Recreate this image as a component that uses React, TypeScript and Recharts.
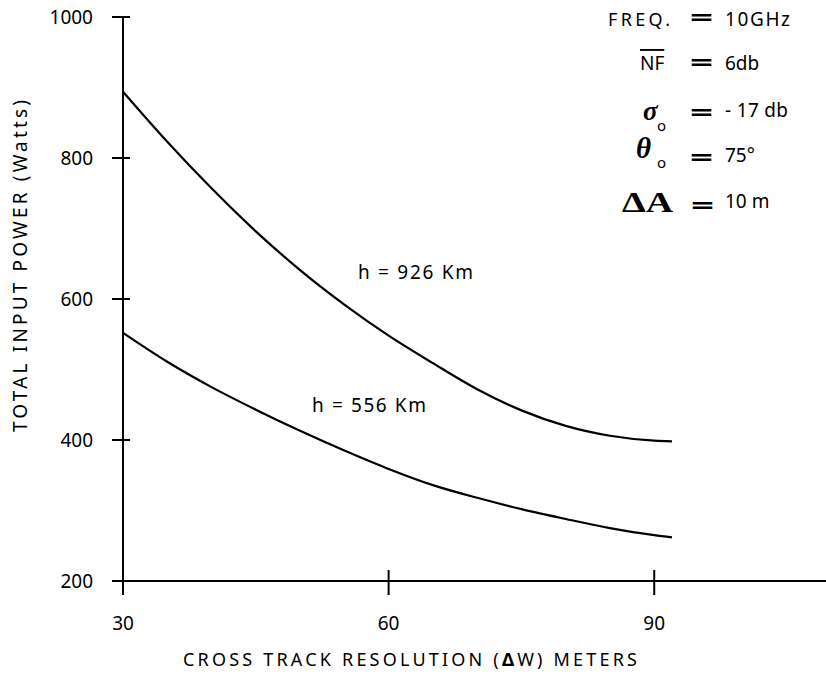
import { LineChart, Line, XAxis, YAxis } from "recharts";

// cross track resolution (meters)
const resolution = [30, 35, 40, 45, 50, 55, 60, 65, 70, 75, 80, 85, 90, 92];
// total input power (watts) for each orbit height
const power926 = [894, 823, 757, 696, 641, 592, 548, 509, 472, 442, 420, 406, 399, 398];
const power556 = [552, 511, 475, 443, 413, 385, 359, 336, 318, 302, 288, 275, 265, 262];

const xTicks = [30, 60, 90];
const yTicks = [200, 400, 600, 800, 1000];

const data = resolution.map((r, i) => ({
  r,
  h926: power926[i],
  h556: power556[i],
}));

const FONT = "'Noto Sans', sans-serif";
const SERIF = "'Liberation Serif', serif";

const YTick = (props: any) => {
  const { x, y, payload } = props;
  return (
    <g>
      <line x1={x - 9} x2={x + 9} y1={y} y2={y} stroke="#000" strokeWidth={2} />
      <text x={x - 28} y={y} textAnchor="end" dominantBaseline="central" fontSize={19} fontFamily={FONT} fill="#000">
        {payload.value}
      </text>
    </g>
  );
};

const XTick = (props: any) => {
  const { x, y, payload } = props;
  return (
    <g>
      <line x1={x} x2={x} y1={y - 13} y2={y + 12} stroke="#000" strokeWidth={2} />
      <text x={x} y={y + 40} textAnchor="middle" dominantBaseline="central" fontSize={19} fontFamily={FONT} fill="#000">
        {payload.value}
      </text>
    </g>
  );
};

const Eq = ({ x, y }: { x: number; y: number }) => (
  <text x={x} y={y + 9} fontSize={24} fontWeight="bold" fontFamily={FONT} textLength={23} lengthAdjust="spacingAndGlyphs" fill="#000">
    =
  </text>
);

export default function App() {
  return (
    <div style={{ position: "absolute", left: 0, top: 0, width: 826, height: 676, background: "#fff" }}>
      <LineChart width={826} height={676} data={data} margin={{ top: 17, right: 0, bottom: 0, left: 0 }}>
        <XAxis
          dataKey="r"
          type="number"
          domain={[30, 109.4]}
          ticks={xTicks}
          height={95}
          tickSize={0}
          tickLine={false}
          axisLine={{ stroke: "#000", strokeWidth: 2 }}
          tick={<XTick />}
        />
        <YAxis
          type="number"
          domain={[200, 1000]}
          ticks={yTicks}
          width={123}
          tickSize={0}
          tickLine={false}
          axisLine={{ stroke: "#000", strokeWidth: 2 }}
          tick={<YTick />}
        />
        <Line type="monotone" dataKey="h926" stroke="#000" strokeWidth={2.2} dot={false} isAnimationActive={false} />
        <Line type="monotone" dataKey="h556" stroke="#000" strokeWidth={2.2} dot={false} isAnimationActive={false} />
      </LineChart>
      <svg width={826} height={676} style={{ position: "absolute", left: 0, top: 0, pointerEvents: "none" }}>
        <text
          transform="translate(20,266) rotate(-90)"
          textAnchor="middle"
          dominantBaseline="central"
          fontSize={19}
          fontFamily={FONT}
          textLength={332}
          lengthAdjust="spacing"
          fill="#000"
        >
          TOTAL INPUT POWER (Watts)
        </text>
        <text x={410} y={659} textAnchor="middle" dominantBaseline="central" fontSize={18} fontFamily={FONT} textLength={454} lengthAdjust="spacing" fill="#000">
          CROSS TRACK RESOLUTION (<tspan fontWeight="bold">Δ</tspan>W) METERS
        </text>

        <text x={358} y={279} fontSize={19} fontFamily={FONT} textLength={115} lengthAdjust="spacing" fill="#000">
          h = 926  Km
        </text>
        <text x={312} y={412} fontSize={19} fontFamily={FONT} textLength={114} lengthAdjust="spacing" fill="#000">
          h = 556  Km
        </text>

        <text x={608} y={26} fontSize={18} fontFamily={FONT} textLength={62} lengthAdjust="spacing" fill="#000">FREQ.</text>
        <Eq x={690} y={17} />
        <text x={725} y={26} fontSize={19} fontFamily={FONT} textLength={65} lengthAdjust="spacing" fill="#000">10GHz</text>

        <text x={640} y={70} fontSize={19} fontFamily={FONT} fill="#000" style={{ textDecoration: "overline" }}>NF</text>
        <Eq x={690} y={62} />
        <text x={725} y={70} fontSize={19} fontFamily={FONT} fill="#000">6db</text>

        <text x={643} y={120} fontSize={27} fontFamily={SERIF} fontStyle="italic" fontWeight="bold" fill="#000">σ</text>
        <text x={657} y={131} fontSize={15} fontFamily={FONT} fill="#000">o</text>
        <Eq x={690} y={112} />
        <text x={725} y={117} fontSize={19} fontFamily={FONT} textLength={63} lengthAdjust="spacing" fill="#000">- 17 db</text>

        <text x={636} y={158} fontSize={29} fontFamily={SERIF} fontStyle="italic" fontWeight="bold" fill="#000">θ</text>
        <text x={657} y={168} fontSize={15} fontFamily={FONT} fill="#000">o</text>
        <Eq x={690} y={157} />
        <text x={725} y={162} fontSize={19} fontFamily={FONT} fill="#000">75°</text>

        <text x={622} y={212} fontSize={30} fontFamily={SERIF} fontWeight="bold" textLength={51} lengthAdjust="spacingAndGlyphs" fill="#000">ΔA</text>
        <Eq x={691} y={205} />
        <text x={725} y={208} fontSize={19} fontFamily={FONT} fill="#000">10 m</text>
      </svg>
    </div>
  );
}
